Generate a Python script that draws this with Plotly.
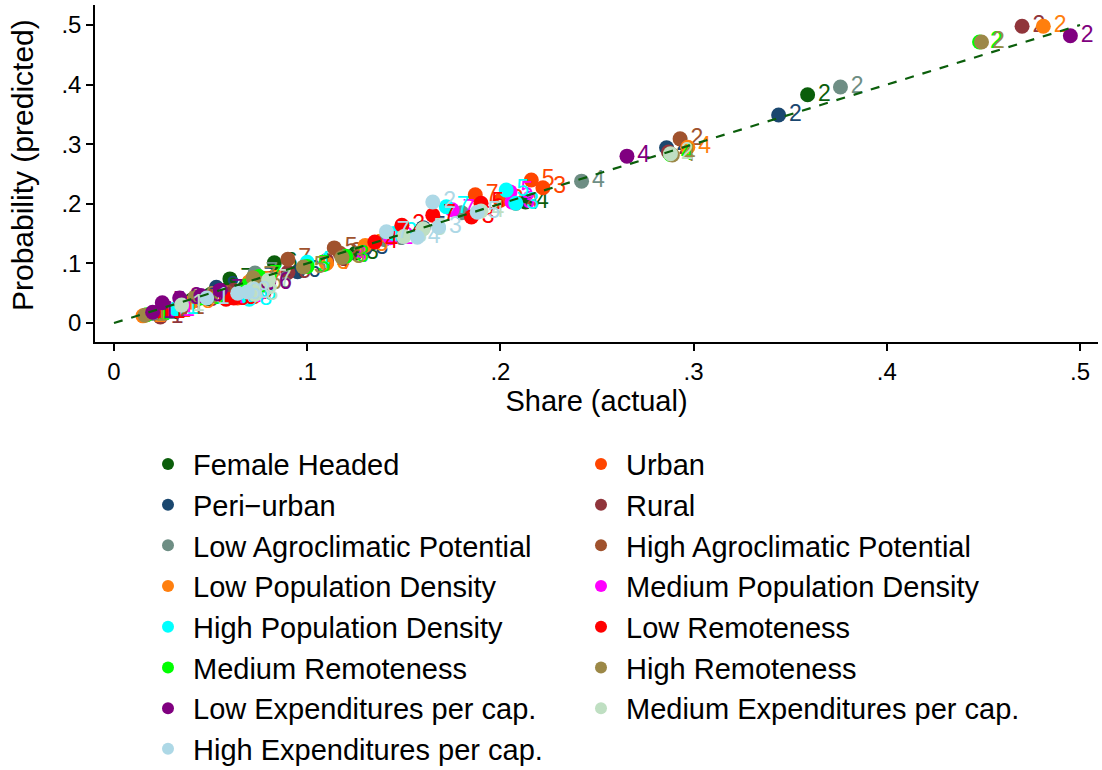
import plotly.graph_objects as go

# ---------------- data ----------------
categories = ["1", "2", "3", "4", "5", "6", "7", "8"]

# share (actual) and probability (predicted) per group, ordered by categories
fh_actual = [0.022, 0.359, 0.125, 0.213, 0.050, 0.083, 0.060, 0.040]
fh_pred   = [0.017, 0.383, 0.117, 0.203, 0.048, 0.101, 0.074, 0.038]
ur_actual = [0.028, 0.200, 0.222, 0.110, 0.216, 0.070, 0.187, 0.064]
ur_pred   = [0.020, 0.206, 0.227, 0.101, 0.240, 0.050, 0.215, 0.042]
pu_actual = [0.025, 0.344, 0.130, 0.286, 0.160, 0.095, 0.072, 0.053]
pu_pred   = [0.020, 0.349, 0.125, 0.294, 0.160, 0.086, 0.075, 0.060]
ru_actual = [0.024, 0.470, 0.110, 0.287, 0.090, 0.062, 0.070, 0.042]
ru_pred   = [0.010, 0.498, 0.105, 0.287, 0.085, 0.055, 0.068, 0.038]
la_actual = [0.020, 0.376, 0.140, 0.242, 0.180, 0.080, 0.073, 0.045]
la_pred   = [0.016, 0.396, 0.140, 0.238, 0.185, 0.068, 0.084, 0.044]
ha_actual = [0.035, 0.293, 0.117, 0.208, 0.114, 0.070, 0.090, 0.050]
ha_pred   = [0.025, 0.309, 0.117, 0.201, 0.126, 0.060, 0.107, 0.045]
lp_actual = [0.015, 0.481, 0.110, 0.297, 0.130, 0.070, 0.075, 0.040]
lp_pred   = [0.012, 0.498, 0.100, 0.295, 0.130, 0.069, 0.070, 0.035]
mp_actual = [0.030, 0.143, 0.206, 0.120, 0.205, 0.068, 0.175, 0.066]
mp_pred   = [0.022, 0.143, 0.203, 0.112, 0.220, 0.050, 0.190, 0.045]
hp_actual = [0.032, 0.145, 0.208, 0.100, 0.203, 0.072, 0.172, 0.070]
hp_pred   = [0.024, 0.150, 0.201, 0.102, 0.223, 0.048, 0.195, 0.040]
lr_actual = [0.025, 0.149, 0.185, 0.135, 0.190, 0.062, 0.165, 0.058]
lr_pred   = [0.018, 0.164, 0.178, 0.136, 0.201, 0.042, 0.181, 0.040]
mr_actual = [0.017, 0.448, 0.120, 0.288, 0.100, 0.068, 0.075, 0.045]
mr_pred   = [0.014, 0.4715, 0.112, 0.283, 0.095, 0.062, 0.078, 0.042]
hr_actual = [0.016, 0.449, 0.118, 0.289, 0.098, 0.075, 0.072, 0.042]
hr_pred   = [0.013, 0.4715, 0.110, 0.282, 0.094, 0.067, 0.076, 0.044]
le_actual = [0.020, 0.495, 0.034, 0.2655, 0.025, 0.080, 0.055, 0.045]
le_pred   = [0.018, 0.482, 0.042, 0.280, 0.034, 0.067, 0.055, 0.046]
me_actual = [0.035, 0.288, 0.150, 0.190, 0.160, 0.072, 0.080, 0.073]
me_pred   = [0.030, 0.284, 0.145, 0.188, 0.158, 0.058, 0.072, 0.048]
he_actual = [0.048, 0.165, 0.168, 0.157, 0.188, 0.064, 0.141, 0.069]
he_pred   = [0.042, 0.203, 0.161, 0.144, 0.186, 0.050, 0.153, 0.052]

fit_x = [0.0, 0.5]
fit_y = [0.0, 0.5]

x_ticks = [0, 0.1, 0.2, 0.3, 0.4, 0.5]
x_ticktext = ["0", ".1", ".2", ".3", ".4", ".5"]
y_ticks = [0, 0.1, 0.2, 0.3, 0.4, 0.5]
y_ticktext = ["0", ".1", ".2", ".3", ".4", ".5"]

x_title = "Share (actual)"
y_title = "Probability (predicted)"

# (name, actual, predicted, colour, legend column)
series = [
    ("Female Headed", fh_actual, fh_pred, "#0B5E0B", "legend"),
    ("Urban", ur_actual, ur_pred, "#FF4500", "legend2"),
    ("Peri\u2212urban", pu_actual, pu_pred, "#1A476F", "legend"),
    ("Rural", ru_actual, ru_pred, "#90353B", "legend2"),
    ("Low Agroclimatic Potential", la_actual, la_pred, "#6E8E84", "legend"),
    ("High Agroclimatic Potential", ha_actual, ha_pred, "#A0522D", "legend2"),
    ("Low Population Density", lp_actual, lp_pred, "#FF7F0E", "legend"),
    ("Medium Population Density", mp_actual, mp_pred, "#FF00FF", "legend2"),
    ("High Population Density", hp_actual, hp_pred, "#00FFFF", "legend"),
    ("Low Remoteness", lr_actual, lr_pred, "#FF0000", "legend2"),
    ("Medium Remoteness", mr_actual, mr_pred, "#00FF00", "legend"),
    ("High Remoteness", hr_actual, hr_pred, "#9C8847", "legend2"),
    ("Low Expenditures per cap.", le_actual, le_pred, "#800080", "legend"),
    ("Medium Expenditures per cap.", me_actual, me_pred, "#BFDFC2", "legend2"),
    ("High Expenditures per cap.", he_actual, he_pred, "#ADD8E6", "legend"),
]

FONT = "Liberation Sans, Arial, Helvetica, sans-serif"

fig = go.Figure()
for name, xs, ys, col, leg in series:
    fig.add_trace(go.Scatter(
        x=xs, y=ys, text=categories, name=name,
        mode="markers+text", textposition="middle right",
        marker=dict(color=col, size=15, line=dict(width=0)),
        textfont=dict(color=col, size=23, family=FONT),
        legend=leg, legendgroup=name,
    ))

fig.add_trace(go.Scatter(
    x=fit_x, y=fit_y, mode="lines", showlegend=False,
    line=dict(color="#0B5E0B", width=2.2, dash="dash"),
    hoverinfo="skip",
))

legend_common = dict(
    font=dict(size=29, family=FONT, color="black"),
    bgcolor="rgba(0,0,0,0)", borderwidth=0,
    xref="container", yref="container", xanchor="left", yanchor="top",
    itemwidth=40, traceorder="grouped", tracegroupgap=0,
    itemsizing="constant", maxheight=760,
)

fig.update_layout(
    width=1102, height=770,
    margin=dict(l=95, r=4, t=5, b=428, autoexpand=False),
    paper_bgcolor="white", plot_bgcolor="white",
    font=dict(family=FONT, color="black"),
    showlegend=True,
    legend=dict(x=143 / 1102, y=1 - 438.6 / 770, **legend_common),
    legend2=dict(x=576 / 1102, y=1 - 438.6 / 770, **legend_common),
    xaxis=dict(
        range=[-0.00983, 0.5093], tickvals=x_ticks, ticktext=x_ticktext,
        ticks="outside", ticklen=7, tickwidth=1.5, tickcolor="black",
        showline=True, linecolor="black", linewidth=1.5,
        showgrid=False, zeroline=False, automargin=True,
        tickfont=dict(size=24, family=FONT),
        title=dict(text=x_title, font=dict(size=29, family=FONT), standoff=6),
    ),
    yaxis=dict(
        range=[-0.0319, 0.5336], tickvals=y_ticks, ticktext=y_ticktext,
        ticks="outside", ticklen=7, tickwidth=1.5, tickcolor="black",
        showline=True, linecolor="black", linewidth=1.5,
        showgrid=False, zeroline=False, automargin=False,
        tickfont=dict(size=24, family=FONT),
    ),
    annotations=[dict(
        text=y_title, textangle=-90, showarrow=False,
        xref="paper", yref="paper", x=-0.0728, y=0.525,
        xanchor="center", yanchor="middle",
        font=dict(size=30, family=FONT, color="black"),
    )],
)

fig.write_html("out.html")
